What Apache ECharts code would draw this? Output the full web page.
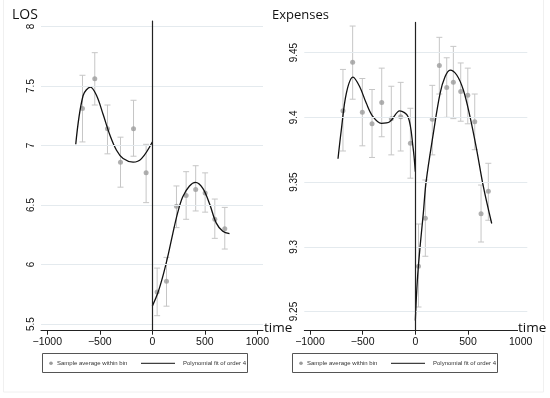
<!DOCTYPE html>
<html><head><meta charset="utf-8">
<script src="https://cdn.jsdelivr.net/npm/echarts@6/dist/echarts.min.js"></script>
<style>html,body{margin:0;padding:0;background:#fff}#c{width:550px;height:398px}</style>
</head><body><div id="c"></div>
<script>
// ---- tick labels ----
const xTicks = [-1000, -500, 0, 500, 1000];
const losTicks = [5.5, 6, 6.5, 7, 7.5, 8];
const expTicks = [9.25, 9.3, 9.35, 9.4, 9.45];

// ---- LOS: bin averages (left / right of cutoff) ----
const losLeftX  = [-665, -548, -427, -303, -179, -59];
const losLeftY  = [7.31, 7.56, 7.14, 6.86, 7.14, 6.77];
const losLeftLo = [7.03, 7.34, 6.93, 6.65, 6.91, 6.52];
const losLeftHi = [7.59, 7.78, 7.34, 7.07, 7.38, 7.01];
const losRightX  = [46, 135, 230, 322, 413, 503, 595, 690];
const losRightY  = [5.77, 5.86, 6.49, 6.58, 6.63, 6.60, 6.38, 6.30];
const losRightLo = [5.57, 5.65, 6.31, 6.38, 6.45, 6.44, 6.22, 6.13];
const losRightHi = [5.97, 6.06, 6.66, 6.78, 6.83, 6.77, 6.55, 6.48];
// ---- LOS: fitted curve ----
const losFitLX = [-729, -659, -589, -531, -468, -405, -341, -278, -183, -103, 0];
const losFitLY = [7.01, 7.42, 7.49, 7.42, 7.26, 7.09, 6.96, 6.89, 6.86, 6.89, 7.03];
const losFitRX = [0, 52, 100, 148, 195, 243, 290, 354, 411, 481, 545, 608, 671, 735];
const losFitRY = [5.65, 5.76, 5.90, 6.07, 6.26, 6.44, 6.57, 6.66, 6.69, 6.64, 6.51, 6.35, 6.28, 6.26];

// ---- Expenses: bin averages ----
const expLeftX  = [-687, -595, -503, -411, -319, -228, -139, -47];
const expLeftY  = [9.405, 9.4425, 9.404, 9.395, 9.4115, 9.399, 9.4005, 9.380];
const expLeftLo = [9.374, 9.414, 9.378, 9.369, 9.385, 9.371, 9.374, 9.353];
const expLeftHi = [9.437, 9.4705, 9.430, 9.4215, 9.438, 9.424, 9.427, 9.407];
const expRightX  = [30, 95, 161, 228, 298, 361, 431, 498, 564, 624, 693];
const expRightY  = [9.285, 9.322, 9.3985, 9.440, 9.423, 9.427, 9.420, 9.417, 9.3965, 9.3255, 9.343];
const expRightLo = [9.2535, 9.2927, 9.371, 9.418, 9.400, 9.399, 9.397, 9.395, 9.375, 9.3037, 9.3205];
const expRightHi = [9.3176, 9.3516, 9.4247, 9.4618, 9.446, 9.4548, 9.442, 9.438, 9.418, 9.3477, 9.3645];
// ---- Expenses: fitted curve ----
const expFitLX = [-734, -703, -655, -592, -528, -465, -402, -323, -243, -148, -69, -22, 0];
const expFitLY = [9.368, 9.390, 9.4185, 9.431, 9.4236, 9.4108, 9.4005, 9.3954, 9.3966, 9.405, 9.4005, 9.377, 9.358];
const expFitRX = [0, 19, 45, 76, 102, 171, 235, 282, 330, 393, 456, 519, 583, 646, 725];
const expFitRY = [9.243, 9.274, 9.300, 9.326, 9.350, 9.3876, 9.4185, 9.4313, 9.4365, 9.4327, 9.4211, 9.4005, 9.3747, 9.3464, 9.318];

const zip = (a, b) => a.map((v, i) => [v, b[i]]);
const zip3 = (a, b, c) => a.map((v, i) => [v, b[i], c[i]]);

const AX = '#222', GRID = '#e4eaee', PT = '#9c9c9c', BAR = '#c6c6c6';
const FONT = 'Liberation Sans, Arial, sans-serif';

function xAxisCfg(idx, min, max) {
  return {
    type: 'value', gridIndex: idx, min: min, max: max,
    axisLine: { show: true, onZero: false, lineStyle: { color: AX, width: 1 } },
    axisTick: { show: true, length: 4, customValues: xTicks, lineStyle: { color: AX } },
    axisLabel: { customValues: xTicks, color: '#111', fontSize: 10.5, fontFamily: FONT, margin: 6,
      formatter: v => String(v).replace('-', '\u2212') },
    splitLine: { show: false }
  };
}
function yAxisCfg(idx, min, max, ticks) {
  return {
    type: 'value', gridIndex: idx, min: min, max: max,
    axisLine: { show: true, lineStyle: { color: AX, width: 1 } },
    axisTick: { show: true, length: 4, customValues: ticks, lineStyle: { color: AX } },
    axisLabel: { customValues: ticks, color: '#111', fontSize: 10, fontFamily: FONT, rotate: 90, margin: 5,
      formatter: v => String(v) },
    splitLine: { show: false }
  };
}
function errBars(idx, data) {
  return {
    type: 'custom', xAxisIndex: idx, yAxisIndex: idx, z: 2, silent: true,
    encode: { x: 0, y: [1, 2] },
    data: data,
    renderItem: function (params, api) {
      const x = api.value(0), lo = api.value(1), hi = api.value(2);
      const a = api.coord([x, lo]), b = api.coord([x, hi]);
      const st = { stroke: BAR, lineWidth: 1 };
      return { type: 'group', children: [
        { type: 'line', shape: { x1: a[0], y1: a[1], x2: b[0], y2: b[1] }, style: st },
        { type: 'line', shape: { x1: a[0] - 3, y1: a[1], x2: a[0] + 3, y2: a[1] }, style: st },
        { type: 'line', shape: { x1: b[0] - 3, y1: b[1], x2: b[0] + 3, y2: b[1] }, style: st }
      ]};
    }
  };
}
function pts(idx, data) {
  return { type: 'scatter', xAxisIndex: idx, yAxisIndex: idx, z: 3, silent: true,
    symbolSize: 5, itemStyle: { color: PT }, data: data };
}
function fit(idx, data) {
  return { type: 'line', xAxisIndex: idx, yAxisIndex: idx, z: 4, silent: true, smooth: 0.35,
    showSymbol: false, lineStyle: { color: '#111', width: 1.3 }, data: data };
}
function guides(idx, ticks) {
  return { type: 'line', xAxisIndex: idx, yAxisIndex: idx, data: [], z: 1, silent: true,
    markLine: { silent: true, symbol: 'none', label: { show: false },
      data: ticks.map(t => ({ yAxis: t, lineStyle: { color: GRID, width: 1, type: 'solid' } }))
        .concat([{ xAxis: 0, lineStyle: { color: '#222', width: 1.2, type: 'solid' } }]) } };
}

function legendBox(x0) {
  const cy = 363.3;
  return [
    { type: 'rect', shape: { x: x0 + 0.5, y: 353.5, width: 205, height: 19 }, style: { fill: '#fff', stroke: '#555', lineWidth: 1 }, z: 10 },
    { type: 'circle', shape: { cx: x0 + 9, cy: cy, r: 1.8 }, style: { fill: PT }, z: 11 },
    { type: 'text', x: x0 + 15, y: cy, style: { text: 'Sample average within bin', fontSize: 6, fontFamily: FONT, fill: '#333', verticalAlign: 'middle' }, z: 11 },
    { type: 'line', shape: { x1: x0 + 99, y1: cy, x2: x0 + 133, y2: cy }, style: { stroke: '#111', lineWidth: 1 }, z: 11 },
    { type: 'text', x: x0 + 141, y: cy, style: { text: 'Polynomial fit of order 4', fontSize: 6, fontFamily: FONT, fill: '#333', verticalAlign: 'middle' }, z: 11 }
  ];
}

const chart = echarts.init(document.getElementById('c'), null, { renderer: 'canvas' });
chart.setOption({
  animation: false,
  backgroundColor: '#fff',
  grid: [
    { left: 41, right: 287, top: 21, bottom: 67.3 },
    { left: 304.3, right: 22.7, top: 22.3, bottom: 67.3 }
  ],
  xAxis: [xAxisCfg(0, -1060, 1054), xAxisCfg(1, -1054, 1063)],
  yAxis: [yAxisCfg(0, 5.444, 8.046, losTicks), yAxisCfg(1, 9.2352, 9.4734, expTicks)],
  series: [
    guides(0, losTicks), guides(1, expTicks),
    errBars(0, zip3(losLeftX, losLeftLo, losLeftHi)),
    errBars(0, zip3(losRightX, losRightLo, losRightHi)),
    pts(0, zip(losLeftX, losLeftY)), pts(0, zip(losRightX, losRightY)),
    fit(0, zip(losFitLX, losFitLY)), fit(0, zip(losFitRX, losFitRY)),
    errBars(1, zip3(expLeftX, expLeftLo, expLeftHi)),
    errBars(1, zip3(expRightX, expRightLo, expRightHi)),
    pts(1, zip(expLeftX, expLeftY)), pts(1, zip(expRightX, expRightY)),
    fit(1, zip(expFitLX, expFitLY)), fit(1, zip(expFitRX, expFitRY))
  ],
  graphic: [
    { type: 'rect', shape: { x: 3.5, y: -2, width: 540, height: 394 }, style: { fill: 'none', stroke: '#f0f0f0', lineWidth: 1 }, z: 0, silent: true },
    { type: 'text', x: 12, y: 15, style: { text: 'LOS', fontSize: 14, fontFamily: 'Open Sans, sans-serif', fill: '#111', verticalAlign: 'middle' }, z: 12 },
    { type: 'text', x: 272, y: 15, style: { text: 'Expenses', fontSize: 13, fontFamily: 'Open Sans, sans-serif', fill: '#111', verticalAlign: 'middle' }, z: 12 },
    { type: 'text', x: 264, y: 328, style: { text: 'time', fontSize: 13.5, fontFamily: 'Open Sans, sans-serif', fill: '#111', verticalAlign: 'middle', backgroundColor: '#fff' }, z: 12 },
    { type: 'text', x: 518, y: 328, style: { text: 'time', fontSize: 13.5, fontFamily: 'Open Sans, sans-serif', fill: '#111', verticalAlign: 'middle', backgroundColor: '#fff' }, z: 12 }
  ].concat(legendBox(42), legendBox(292))
});
</script></body></html>
